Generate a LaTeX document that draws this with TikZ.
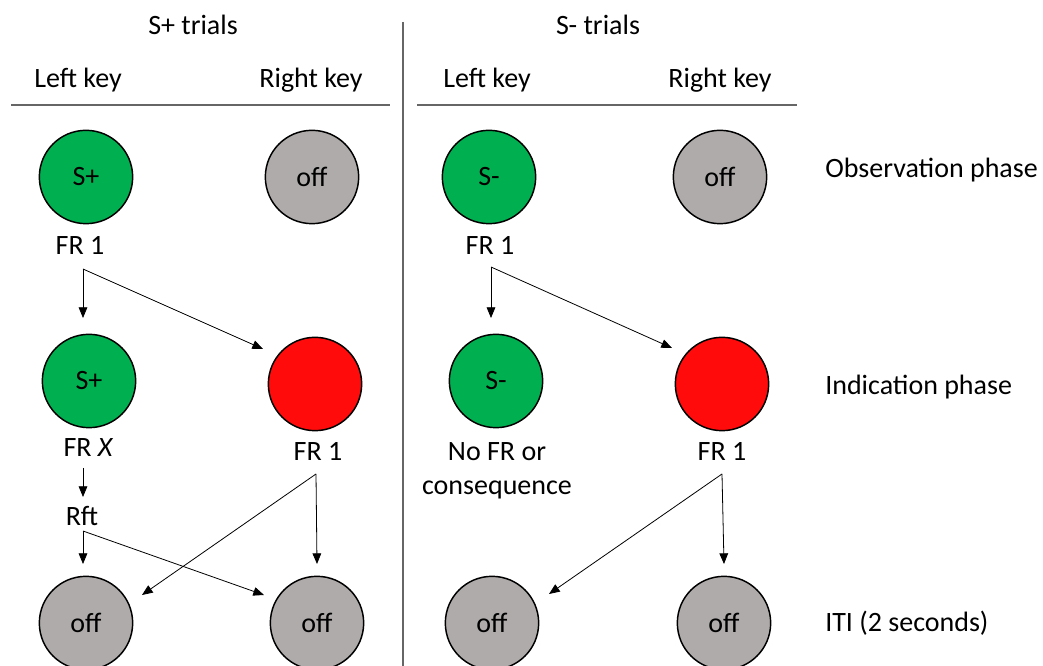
\documentclass[tikz,border=0pt]{standalone}
\usepackage{fontspec}
\setmainfont{Carlito}
\usetikzlibrary{arrows.meta}
\definecolor{keygreen}{HTML}{00B050}
\definecolor{keygray}{HTML}{AFABAB}
\definecolor{keyred}{HTML}{FF0B0B}
\begin{document}
\begin{tikzpicture}[x=0.75pt,y=-0.75pt,
  every node/.style={font=\fontsize{21}{25.5}\selectfont, inner sep=0pt},
  key/.style={circle, draw=black, line width=1.1pt, minimum size=70pt},
  green key/.style={key, fill=keygreen},
  gray key/.style={key, fill=keygray},
  red key/.style={key, fill=keyred},
  conn/.style={line width=0.6pt, -{Triangle[length=8pt,width=6.5pt]}},
  sep/.style={line width=0.8pt, draw=black!60}]
\useasboundingbox (0,0) rectangle (1043,666);

% headers
\node (hsp) at (193,25) {S+ trials};
\node (hsm) at (598,25) {S- trials};
\node (lk1) at (78,80) {Left key};
\node (rk1) at (311,80) {Right key};
\node (lk2) at (487,80) {Left key};
\node (rk2) at (720,80) {Right key};
\draw[sep] (11,105) -- (390,105);
\draw[sep] (417,105) -- (797,105);
\draw[sep] (403,22) -- (403,666);

% phase labels
\node[anchor=west] (obs) at (825,170) {Observation phase};
\node[anchor=west] (ind) at (825,387) {Indication phase};
\node[anchor=west] (iti) at (825,623) {ITI (2 seconds)};

% ---- S+ trials ----
\node[green key] (a1) at (86,177) {S+};
\node[gray key] (a2) at (312,177) {off};
\node (afr) at (80,245) {FR 1};
\node[green key] (a3) at (89,381) {S+};
\node[red key] (a4) at (315,384) {};
\node (afrx) at (88,448) {FR {\itshape X}};
\node (afr1) at (318,451) {FR 1};
\node (arft) at (82,516) {Rft};
\node[gray key] (a5) at (86,623) {off};
\node[gray key] (a6) at (317,623) {off};

\coordinate (ab1) at (83,269);
\coordinate (ae1) at (83,318);
\coordinate (ae2) at (263,349);
\coordinate (ab2) at (83,468);
\coordinate (ae3) at (83,497);
\coordinate (ab3) at (83,531);
\coordinate (ae4) at (83,564);
\coordinate (ae5) at (264,595);
\coordinate (ab4) at (316,474);
\coordinate (ae6) at (317,564);
\coordinate (ae7) at (142,595);

\draw[conn] (ab1) -- (ae1);
\draw[conn] (ab1) -- (ae2);
\draw[conn] (ab2) -- (ae3);
\draw[conn] (ab3) -- (ae4);
\draw[conn] (ab3) -- (ae5);
\draw[conn] (ab4) -- (ae6);
\draw[conn] (ab4) -- (ae7);

% ---- S- trials ----
\node[green key] (b1) at (489,177) {S-};
\node[gray key] (b2) at (720,177) {off};
\node (bfr) at (490,245) {FR 1};
\node[green key] (b3) at (496,381) {S-};
\node[red key] (b4) at (722,384) {};
\node[align=center] (bno) at (497,471) {No FR or\\consequence};
\node (bfr1) at (722,451) {FR 1};
\node[gray key] (b5) at (492,623) {off};
\node[gray key] (b6) at (724,623) {off};

\coordinate (bb1) at (491,267);
\coordinate (be1) at (491,318);
\coordinate (be2) at (672,348);
\coordinate (bb2) at (722,474);
\coordinate (be3) at (724,564);
\coordinate (be4) at (549,594);

\draw[conn] (bb1) -- (be1);
\draw[conn] (bb1) -- (be2);
\draw[conn] (bb2) -- (be3);
\draw[conn] (bb2) -- (be4);
\end{tikzpicture}
\end{document}
